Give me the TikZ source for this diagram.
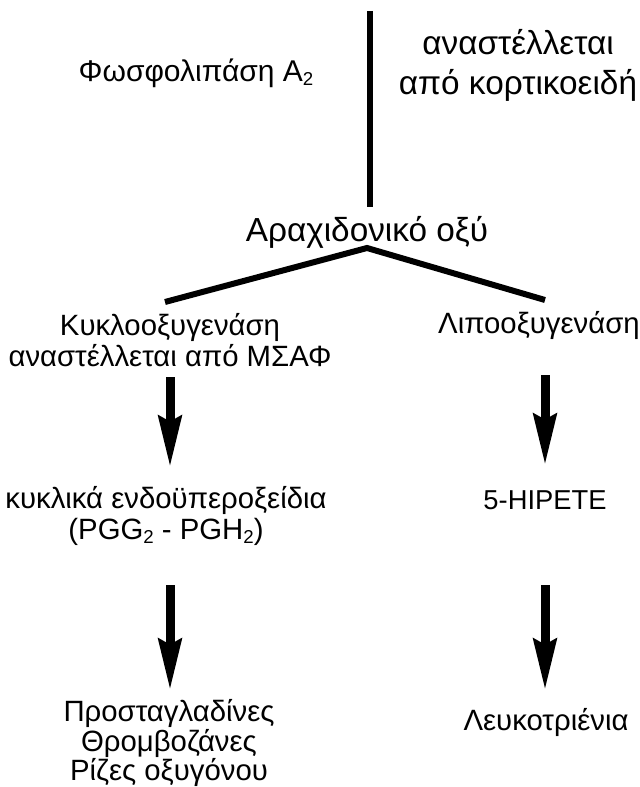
\documentclass[tikz,border=0pt]{standalone}
\usepackage{fontspec}
\setmainfont{Liberation Sans}
\usetikzlibrary{arrows.meta, positioning}
\newcommand{\subsc}[1]{\raisebox{-0.25ex}{\fontsize{14}{14}\selectfont #1}}

\begin{document}
\begin{tikzpicture}[x=0.75pt,y=0.75pt,yscale=-1,xscale=1]
\tikzset{
  txt/.style={inner sep=0.75pt, align=center, font=\fontsize{22}{23.5}\selectfont},
  latintxt/.style={inner sep=0.75pt, align=center, font=\fontsize{20.5}{23.5}\selectfont},
  bigtxt/.style={inner sep=0.75pt, align=center, font=\fontsize{25}{30}\selectfont},
  fatarrow/.style={line width=6.75pt, -{Stealth[length=38pt, width=17pt, inset=4pt]}},
  branch/.style={line width=4.5pt},
}
\useasboundingbox (0,0) rectangle (639,787);

% top part
\node [inner sep=0.75pt, font=\fontsize{22.5}{28}\selectfont] (phos) at (196,73) {Φωσφολιπάση A\subsc{2}};
\node [bigtxt] (inhib) at (518,65) {αναστέλλεται\\από κορτικοειδή};
\node [bigtxt] (acid) at (367,232) {Αραχιδονικό οξύ};
\coordinate (top) at (369.5,11);
\coordinate (bottom) at (369.5,207);
\draw [line width=4.5pt] (top) -- (bottom);

% branches
\coordinate (apex) at (367,248);
\coordinate (leftend) at (165,302);
\coordinate (rightend) at (545,300);
\draw [branch] (leftend) -- (apex) -- (rightend);

% left column
\node [txt] (cox) at (170,340) {Κυκλοοξυγενάση\\αναστέλλεται από ΜΣΑΦ};
\node [txt] (endo) at (166,516) {κυκλικά ενδοϋπεροξείδια\\(PGG\subsc{2} - PGH\subsc{2})};
\node [txt, font=\fontsize{22}{22}\selectfont] (prost) at (169,743) {Προσταγλαδίνες\\Θρομβοζάνες\\Ρίζες οξυγόνου};

% right column
\node [txt] (lox) at (539,325) {Λιποοξυγενάση};
\node [latintxt] (hpete) at (545,500) {5-HIPETE};
\node [txt] (leuk) at (546,722) {Λευκοτριένια};

% arrows
\coordinate (coxout) at (170,377);
\coordinate (endoin) at (170,467);
\coordinate (endoout) at (170,585);
\coordinate (prostin) at (170,690);
\coordinate (loxout) at (545,375);
\coordinate (hpetein) at (545,465);
\coordinate (hpeteout) at (545,585);
\coordinate (leukin) at (545,690);
\draw [fatarrow] (coxout) -- (endoin);
\draw [fatarrow] (loxout) -- (hpetein);
\draw [fatarrow] (endoout) -- (prostin);
\draw [fatarrow] (hpeteout) -- (leukin);
\end{tikzpicture}
\end{document}
